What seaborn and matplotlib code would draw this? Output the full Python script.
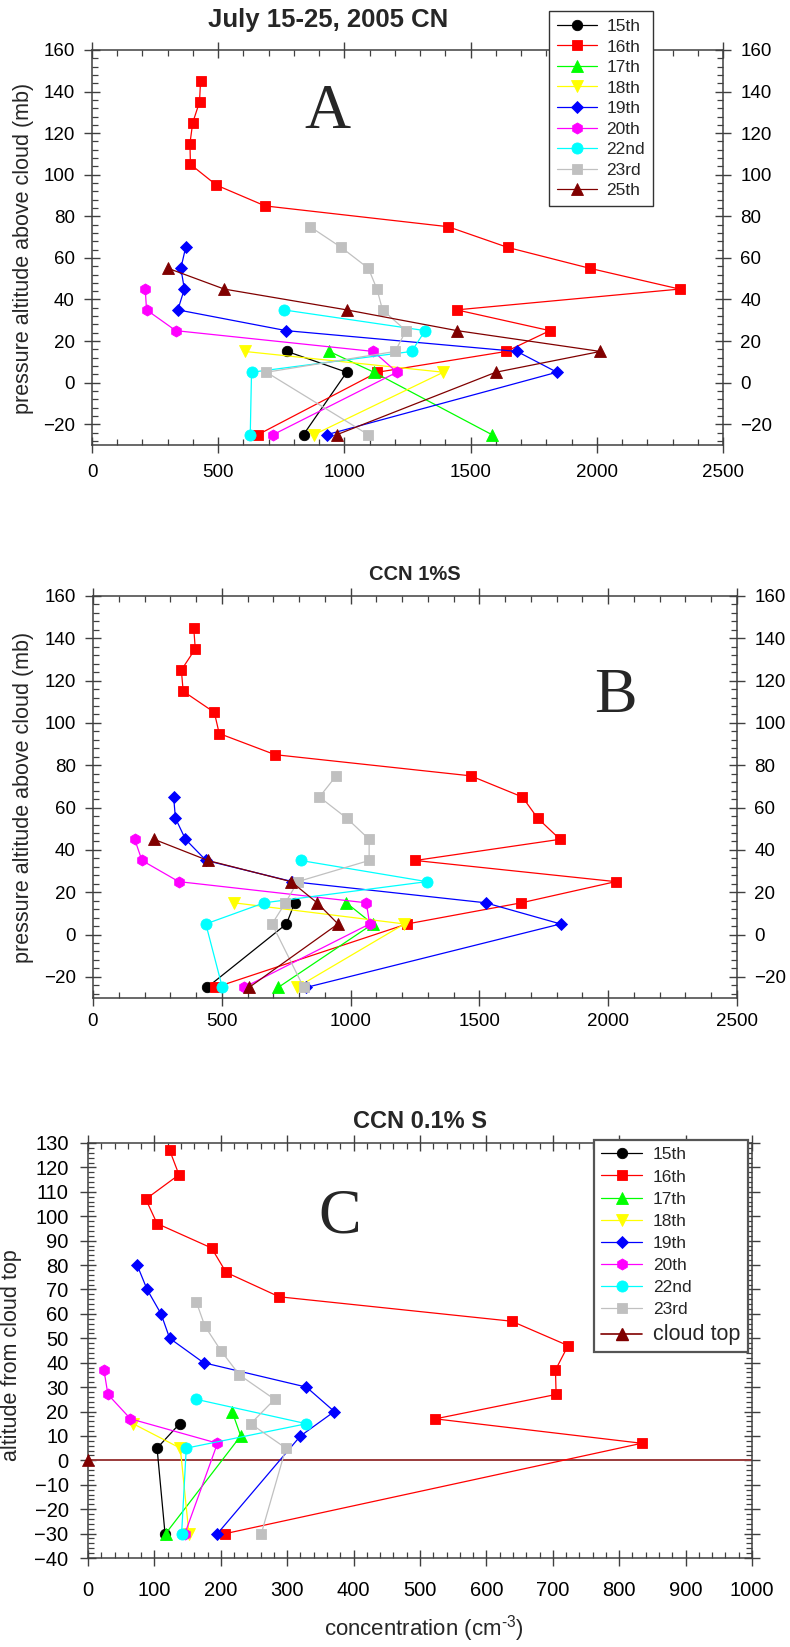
import matplotlib
matplotlib.use("Agg")
import matplotlib.pyplot as plt
from matplotlib.lines import Line2D
from matplotlib.ticker import MultipleLocator
import pandas as pd
import seaborn as sns

sns.set_style("ticks")
plt.rcParams["font.family"] = ["Liberation Sans", "DejaVu Sans"]
plt.rcParams["mathtext.fontset"] = "custom"
plt.rcParams["mathtext.rm"] = "Liberation Sans"

# ---------------------------------------------------------------------------
# Flight days, colours and symbols
days = ["15th", "16th", "17th", "18th", "19th", "20th", "22nd", "23rd", "25th"]
day_colors = ["#000000", "#ff0000", "#00ff00", "#ffff00", "#0000ff",
              "#ff00ff", "#00ffff", "#c0c0c0", "#800000"]
day_markers = ["o", "s", "^", "v", "D", "h", "o", "s", "^"]
day_msize = [7.5, 7, 8, 8, 6.5, 8, 8, 7, 8]

# ---------------------------------------------------------------------------
# Panel A: CN concentration vs pressure altitude above cloud (mb)
cn_alt_15 = [15, 5, -25]
cn_15 = [773, 1009, 838]
cn_alt_16 = [145, 135, 125, 115, 105, 95, 85, 75, 65, 55, 45, 35, 25, 15, 5, -25]
cn_16 = [430, 426, 399, 388, 390, 493, 686, 1411, 1648, 1972, 2328, 1445, 1814, 1641, 1131, 658]
cn_alt_17 = [15, 5, -25]
cn_17 = [940, 1117, 1584]
cn_alt_18 = [15, 5, -25]
cn_18 = [605, 1392, 880]
cn_alt_19 = [65, 55, 45, 35, 25, 15, 5, -25]
cn_19 = [371, 352, 366, 340, 770, 1684, 1842, 931]
cn_alt_20 = [45, 35, 25, 15, 5, -25]
cn_20 = [211, 216, 332, 1115, 1208, 718]
cn_alt_22 = [35, 25, 15, 5, -25]
cn_22 = [759, 1320, 1266, 632, 627]
cn_alt_23 = [75, 65, 55, 45, 35, 25, 15, 5, -25]
cn_23 = [864, 988, 1095, 1129, 1151, 1244, 1201, 691, 1094]
cn_alt_25 = [55, 45, 35, 25, 15, 5, -25]
cn_25 = [301, 524, 1009, 1447, 2014, 1600, 971]

# Panel B: CCN at 1% supersaturation
ccn1_alt_15 = [15, 5, -25]
ccn1_15 = [783, 751, 443]
ccn1_alt_16 = [145, 135, 125, 115, 105, 95, 85, 75, 65, 55, 45, 35, 25, 15, 5, -25]
ccn1_16 = [391, 397, 343, 350, 471, 490, 707, 1466, 1667, 1726, 1813, 1251, 2029, 1663, 1219, 475]
ccn1_alt_17 = [15, 5, -25]
ccn1_17 = [983, 1086, 719]
ccn1_alt_18 = [15, 5, -25]
ccn1_18 = [547, 1209, 791]
ccn1_alt_19 = [65, 55, 45, 35, 25, 15, 5, -25]
ccn1_19 = [313, 320, 359, 439, 774, 1524, 1815, 828]
ccn1_alt_20 = [45, 35, 25, 15, 5, -25]
ccn1_20 = [162, 190, 333, 1061, 1074, 586]
ccn1_alt_22 = [35, 25, 15, 5, -25]
ccn1_22 = [806, 1296, 665, 438, 502]
ccn1_alt_23 = [75, 65, 55, 45, 35, 25, 15, 5, -25]
ccn1_23 = [944, 879, 985, 1072, 1072, 795, 747, 695, 818]
ccn1_alt_25 = [45, 35, 25, 15, 5, -25]
ccn1_25 = [237, 446, 769, 870, 951, 606]

# Panel C: CCN at 0.1% supersaturation vs altitude from cloud top
ccn01_alt_15 = [15, 5, -30]
ccn01_15 = [138, 104, 116]
ccn01_alt_16 = [127, 117, 107, 97, 87, 77, 67, 57, 47, 37, 27, 17, 7, -30]
ccn01_16 = [123, 137, 87, 104, 186, 208, 288, 638, 723, 704, 705, 523, 834, 207]
ccn01_alt_17 = [20, 10, -30]
ccn01_17 = [217, 230, 117]
ccn01_alt_18 = [15, 5, -30]
ccn01_18 = [68, 139, 152]
ccn01_alt_19 = [80, 70, 60, 50, 40, 30, 20, 10, -30]
ccn01_19 = [74, 89, 110, 123, 174, 329, 371, 320, 195]
ccn01_alt_20 = [37, 27, 17, 7, -30]
ccn01_20 = [24, 30, 64, 195, 146]
ccn01_alt_22 = [25, 15, 5, -30]
ccn01_22 = [163, 329, 148, 141]
ccn01_alt_23 = [65, 55, 45, 35, 25, 15, 5, -30]
ccn01_23 = [163, 176, 200, 228, 281, 245, 298, 261]
cloud_top_conc = 0
cloud_top_alt = 0

x_ticks_ab = [0, 500, 1000, 1500, 2000, 2500]
y_ticks_ab = [-20, 0, 20, 40, 60, 80, 100, 120, 140, 160]
x_ticks_c = [0, 100, 200, 300, 400, 500, 600, 700, 800, 900, 1000]
y_ticks_c = list(range(-40, 131, 10))


def series_table(pairs):
    rows = []
    for day, (alt, conc) in pairs.items():
        for order, (a, c) in enumerate(zip(alt, conc)):
            rows.append({"day": day, "order": order, "alt": a, "conc": c})
    return pd.DataFrame(rows)


panel_a = series_table({
    "15th": (cn_alt_15, cn_15), "16th": (cn_alt_16, cn_16),
    "17th": (cn_alt_17, cn_17), "18th": (cn_alt_18, cn_18),
    "19th": (cn_alt_19, cn_19), "20th": (cn_alt_20, cn_20),
    "22nd": (cn_alt_22, cn_22), "23rd": (cn_alt_23, cn_23),
    "25th": (cn_alt_25, cn_25)})
panel_b = series_table({
    "15th": (ccn1_alt_15, ccn1_15), "16th": (ccn1_alt_16, ccn1_16),
    "17th": (ccn1_alt_17, ccn1_17), "18th": (ccn1_alt_18, ccn1_18),
    "19th": (ccn1_alt_19, ccn1_19), "20th": (ccn1_alt_20, ccn1_20),
    "22nd": (ccn1_alt_22, ccn1_22), "23rd": (ccn1_alt_23, ccn1_23),
    "25th": (ccn1_alt_25, ccn1_25)})
panel_c = series_table({
    "15th": (ccn01_alt_15, ccn01_15), "16th": (ccn01_alt_16, ccn01_16),
    "17th": (ccn01_alt_17, ccn01_17), "18th": (ccn01_alt_18, ccn01_18),
    "19th": (ccn01_alt_19, ccn01_19), "20th": (ccn01_alt_20, ccn01_20),
    "22nd": (ccn01_alt_22, ccn01_22), "23rd": (ccn01_alt_23, ccn01_23)})

# ---------------------------------------------------------------------------
W, H = 790, 1647
fig = plt.figure(figsize=(W / 100, H / 100), dpi=100)


def frac_rect(left, top, right, bottom):
    return [left / W, 1 - bottom / H, (right - left) / W, (bottom - top) / H]


def fx(x):
    return x / W


def fy(y):
    return 1 - y / H


SPINE = "#404040"


def draw_profiles(ax, table):
    handles = []
    for day, col, mk, ms in zip(days, day_colors, day_markers, day_msize):
        sub = table[table["day"] == day].sort_values("order")
        if sub.empty:
            continue
        n_before = len(ax.lines)
        sns.lineplot(data=sub, x="conc", y="alt", sort=False, estimator=None,
                     ax=ax, color=col, marker=mk, markersize=ms,
                     markeredgecolor=col, markeredgewidth=0.6,
                     linewidth=0.9, legend=False)
        line = ax.lines[n_before]
        line.set_label(day)
        line.set_clip_on(False)
        handles.append(line)
    return handles


def style_axes(ax, xlim, ylim, xticks, yticks, xminor, yminor,
               label_size, xpad, ypad, right_labels):
    ax.set_xlim(*xlim)
    ax.set_ylim(*ylim)
    ax.set_xticks(xticks)
    ax.set_yticks(yticks)
    ax.xaxis.set_minor_locator(MultipleLocator(xminor))
    ax.yaxis.set_minor_locator(MultipleLocator(yminor))
    ax.set_xlabel("")
    ax.set_ylabel("")
    ax.tick_params(which="major", direction="inout", length=12, width=1.0,
                   color=SPINE, top=True, right=True, labelsize=label_size,
                   labelcolor="black")
    ax.tick_params(axis="x", which="major", pad=xpad)
    ax.tick_params(axis="y", which="major", pad=ypad, labelright=right_labels)
    ax.tick_params(which="minor", direction="in", length=4.5, width=0.9,
                   color=SPINE, top=True, right=True)
    for sp in ax.spines.values():
        sp.set_color(SPINE)
        sp.set_linewidth(1.1)
    ax.grid(False)


# --------------------------- Panel A ---------------------------------------
ax_a = fig.add_axes(frac_rect(92, 50, 723, 445))
h_a = draw_profiles(ax_a, panel_a)
style_axes(ax_a, (0, 2500), (-30, 160), x_ticks_ab, y_ticks_ab, 100, 4,
           13.5, 7.5, 6.5, True)
ax_a.text(931, 122.5, "A", family="Liberation Serif", fontsize=46,
          ha="center", va="baseline")
leg_a = ax_a.legend(handles=h_a, labels=days, loc="upper left",
                    bbox_to_anchor=(fx(549), fy(11)),
                    bbox_transform=fig.transFigure, borderaxespad=0,
                    fontsize=12.5, frameon=True, fancybox=False, shadow=False,
                    framealpha=1, edgecolor="#333333", handlelength=2.3,
                    handletextpad=0.55, labelspacing=0.31, borderpad=0.45)
leg_a.get_frame().set_linewidth(1.0)
leg_a.set_zorder(10)
fig.text(fx(328), fy(20), "July 15-25, 2005 CN", fontsize=18.5,
         fontweight="bold", ha="center", va="center")
fig.text(fx(24), fy(248), "pressure altitude above cloud (mb)", fontsize=15.5,
         rotation=90, ha="center", va="center")

# --------------------------- Panel B ---------------------------------------
ax_b = fig.add_axes(frac_rect(93, 596, 737, 998))
draw_profiles(ax_b, panel_b)
style_axes(ax_b, (0, 2500), (-30, 160), x_ticks_ab, y_ticks_ab, 100, 4,
           13.5, 5.0, 6.5, True)
ax_b.text(2027, 105, "B", family="Liberation Serif", fontsize=46,
          ha="center", va="baseline")
fig.text(fx(415), fy(575), "CCN 1%S", fontsize=14.5, fontweight="bold",
         ha="center", va="center")
fig.text(fx(24), fy(797), "pressure altitude above cloud (mb)", fontsize=15.5,
         rotation=90, ha="center", va="center")

# --------------------------- Panel C ---------------------------------------
ax_c = fig.add_axes(frac_rect(88, 1143, 752, 1558))
h_c = draw_profiles(ax_c, panel_c)
style_axes(ax_c, (0, 1000), (-40, 130), x_ticks_c, y_ticks_c, 20, 2,
           14.5, 10.5, 8.0, False)
cloud_col = "#800000"
ax_c.axhline(cloud_top_alt, color="#9a3b3b", linewidth=1.4, zorder=1.5)
sns.scatterplot(x=[cloud_top_conc], y=[cloud_top_alt], ax=ax_c, marker="^",
                s=75, color=cloud_col, edgecolor=cloud_col, linewidth=0.5,
                clip_on=False, zorder=5, legend=False)
cloud_handle = Line2D([], [], color=cloud_col, linewidth=1.2, marker="^",
                      markersize=8.5, markerfacecolor=cloud_col,
                      markeredgecolor=cloud_col)
ax_c.text(379, 93.5, "C", family="Liberation Serif", fontsize=46,
          ha="center", va="baseline")
leg_c = ax_c.legend(handles=h_c + [cloud_handle],
                    labels=days[:8] + ["cloud top"], loc="upper left",
                    bbox_to_anchor=(fx(594), fy(1140)),
                    bbox_transform=fig.transFigure, borderaxespad=0,
                    fontsize=12.5, frameon=True, fancybox=False, shadow=False,
                    framealpha=1, edgecolor="#555555", handlelength=2.35,
                    handletextpad=0.62, labelspacing=0.40, borderpad=0.42)
leg_c.get_frame().set_linewidth(1.6)
leg_c.get_texts()[-1].set_fontsize(15.5)
leg_c.set_zorder(10)
fig.text(fx(420), fy(1121), "CCN 0.1% S", fontsize=17, fontweight="bold",
         ha="center", va="center")
fig.text(fx(12), fy(1355), "altitude from cloud top", fontsize=15.5,
         rotation=90, ha="center", va="center")
fig.text(fx(424), fy(1629), r"concentration (cm$^{\text{-}3}$)", fontsize=16,
         ha="center", va="center")

fig.savefig("out.png", dpi=100)
